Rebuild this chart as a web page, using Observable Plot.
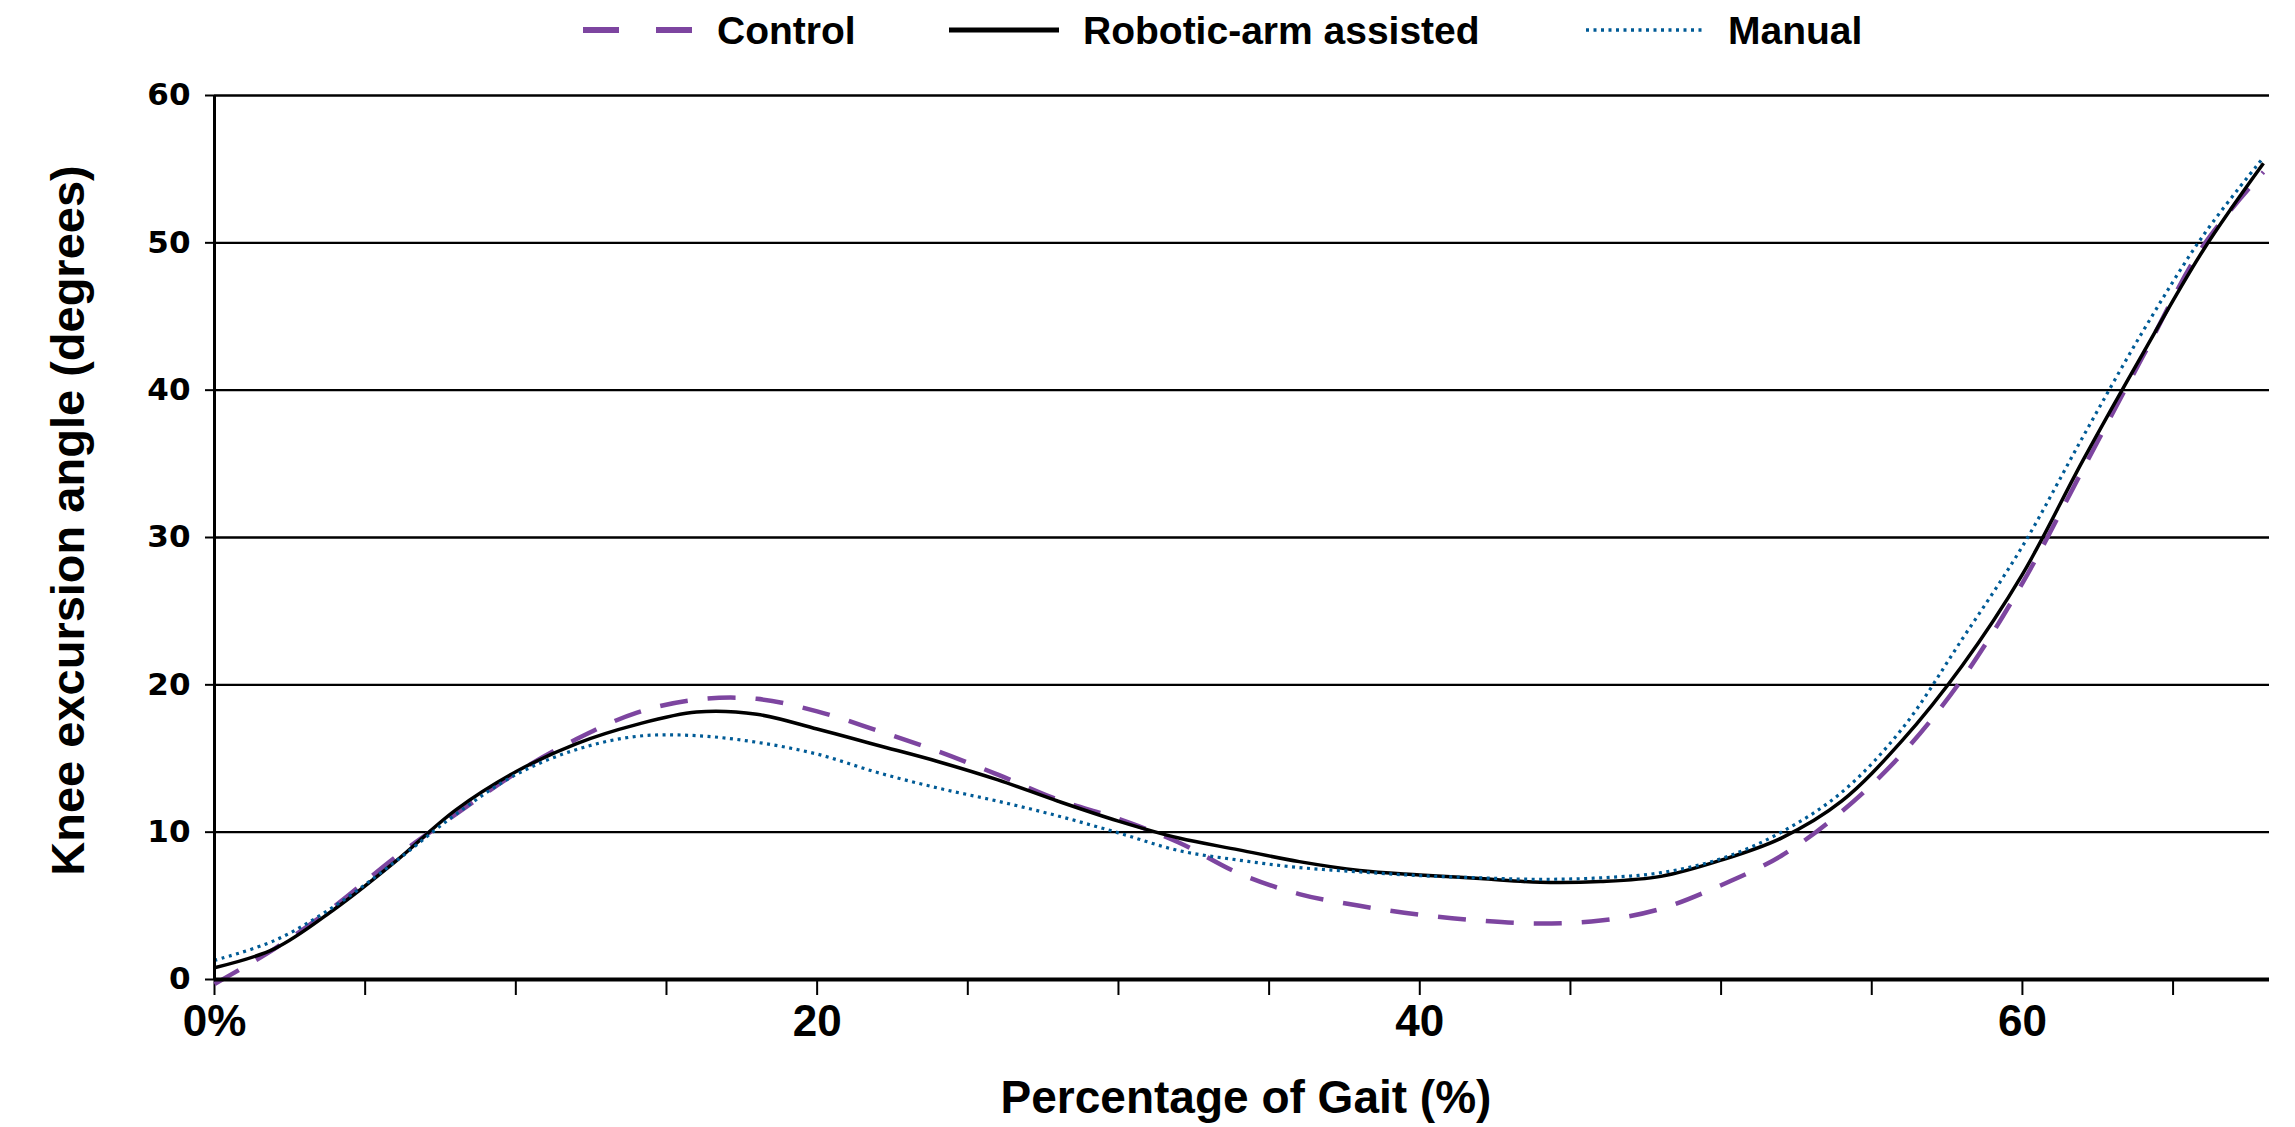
<!DOCTYPE html>
<html>
<head>
<meta charset="utf-8">
<script src="https://cdn.jsdelivr.net/npm/d3@7"></script>
<script src="https://cdn.jsdelivr.net/npm/@observablehq/plot@0.6"></script>
<style>
  html, body { margin: 0; padding: 0; background: #fff; }
  #wrap { width: 2295px; position: relative; }
  #legend { position: relative; height: 60px; width: 2295px; font-family: "Liberation Sans", Arial, sans-serif; font-weight: bold; font-size: 39px; color: #000; }
  .item { position: absolute; top: 0; height: 60px; display: flex; align-items: center; }
  .item span { margin-left: 24px; line-height: 1; }
  svg { display: block; }
</style>
</head>
<body>
<div id="wrap">
  <div id="legend"></div>
  <div id="chart"></div>
</div>
<script>
// ---- data ----
const gait = [0, 2, 4, 6, 8, 10, 12, 14, 16, 18, 20, 22, 24, 26, 28, 30, 32, 34, 36, 38, 40, 42, 44, 46, 48, 50, 52, 54, 56, 58, 60, 62, 64, 66, 68];
const control = [-0.3, 2.1, 5.0, 8.3, 11.2, 14.0, 16.3, 18.1, 19.0, 19.05, 18.2, 16.9, 15.5, 13.9, 12.2, 10.9, 9.3, 7.2, 5.8, 5.0, 4.4, 4.0, 3.8, 4.0, 4.8, 6.4, 8.4, 11.4, 15.3, 20.4, 26.9, 34.6, 42.3, 49.8, 54.8];
const robotic = [0.8, 2.1, 4.8, 8.0, 11.5, 14.1, 16.0, 17.3, 18.15, 18.0, 17.0, 15.9, 14.8, 13.55, 12.1, 10.75, 9.6, 8.8, 8.0, 7.4, 7.1, 6.85, 6.6, 6.65, 7.0, 8.1, 9.6, 12.1, 16.2, 21.3, 27.5, 35.2, 42.5, 49.5, 55.4];
const manual = [1.3, 2.65, 5.0, 8.0, 11.2, 13.9, 15.6, 16.5, 16.55, 16.1, 15.3, 14.05, 13.0, 12.1, 11.1, 9.95, 8.75, 8.1, 7.6, 7.3, 7.05, 6.9, 6.8, 6.9, 7.25, 8.2, 10.0, 12.7, 17.0, 23.1, 29.4, 36.8, 44.0, 50.5, 55.8];

const seriesNames = ["Control", "Robotic-arm assisted", "Manual"];
const seriesColors = ["#7d45a0", "#000000", "#005b96"];
const seriesDash = ["28,20", null, "3,4.5"];
const seriesWidth = [4.5, 3.5, 3.2];

const yTicks = [0, 10, 20, 30, 40, 50, 60];
const xMajorTicks = [0, 20, 40, 60];
const xMinorTicks = [0, 5, 10, 15, 20, 25, 30, 35, 40, 45, 50, 55, 60, 65];

const xTitle = "Percentage of Gait (%)";
const yTitle = "Knee excursion angle (degrees)";

// ---- build table ----
const valuesBySeries = [control, robotic, manual];
const rows = [];
seriesNames.forEach((name, i) => {
  gait.forEach((g, j) => rows.push({series: name, gait: g, angle: valuesBySeries[i][j]}));
});

const condensed = "Liberation Sans, Arial, sans-serif";

const chart = Plot.plot({
  width: 2295,
  height: 1067,
  marginLeft: 214,
  marginRight: 26,
  marginTop: 35,
  marginBottom: 148,
  style: {background: "#fff", color: "#000"},
  x: {domain: [0, 68.2]},
  y: {domain: [0, 60]},
  marks: [
    Plot.gridY({ticks: yTicks.filter(d => d > 0), stroke: "#000", strokeOpacity: 1, strokeWidth: 2.4}),
    Plot.axisY({ticks: yTicks, tickSize: 9, tickPadding: 15, label: null, stroke: "#000", strokeWidth: 2,
      fontSize: 31, fontFamily: "DejaVu Sans, sans-serif", fontWeight: "bold"}),
    Plot.axisX({ticks: xMinorTicks, tickSize: 16, tickFormat: () => "", label: null, stroke: "#000", strokeWidth: 2}),
    Plot.axisX({ticks: xMajorTicks, tickSize: 0, tickPadding: 25, label: null,
      tickFormat: d => d === 0 ? "0%" : String(d),
      fontSize: 44, fontFamily: condensed, fontWeight: "bold"}),
    ...seriesNames.map((name, i) => Plot.line(rows.filter(r => r.series === name), {
      x: "gait", y: "angle", stroke: seriesColors[i], strokeWidth: seriesWidth[i],
      strokeDasharray: seriesDash[i], curve: "catmull-rom", strokeLinecap: "butt"
    })),
    Plot.ruleX([0], {stroke: "#000", strokeWidth: 3}),
    Plot.ruleY([0], {stroke: "#000", strokeWidth: 4}),
    Plot.text([xTitle], {frameAnchor: "bottom", textAnchor: "middle", dy: 119, dx: 4, lineAnchor: "middle",
      fontSize: 46, fontFamily: condensed, fontWeight: "bold", fill: "#000"}),
    Plot.text([yTitle], {frameAnchor: "left", textAnchor: "middle", dx: -146, dy: -17, rotate: -90, lineAnchor: "middle",
      fontSize: 47, fontFamily: condensed, fontWeight: "bold", fill: "#000"})
  ]
});
document.getElementById("chart").appendChild(chart);

// ---- legend ----
const legend = document.getElementById("legend");
const legendLeft = [583, 949, 1586];
const swatchW = [110, 110, 118];
seriesNames.forEach((name, i) => {
  const item = document.createElement("div");
  item.className = "item";
  item.style.left = legendLeft[i] + "px";
  const w = swatchW[i];
  const dash = seriesDash[i] ? (i === 0 ? "36,37" : seriesDash[i]) : "none";
  item.innerHTML = `<svg width="${w}" height="12"><line x1="0" x2="${w}" y1="6" y2="6" stroke="${seriesColors[i]}" stroke-width="${i === 1 ? 5 : (i === 0 ? 6 : 3.5)}" stroke-dasharray="${dash}"/></svg><span>${name}</span>`;
  legend.appendChild(item);
});
</script>
</body>
</html>
